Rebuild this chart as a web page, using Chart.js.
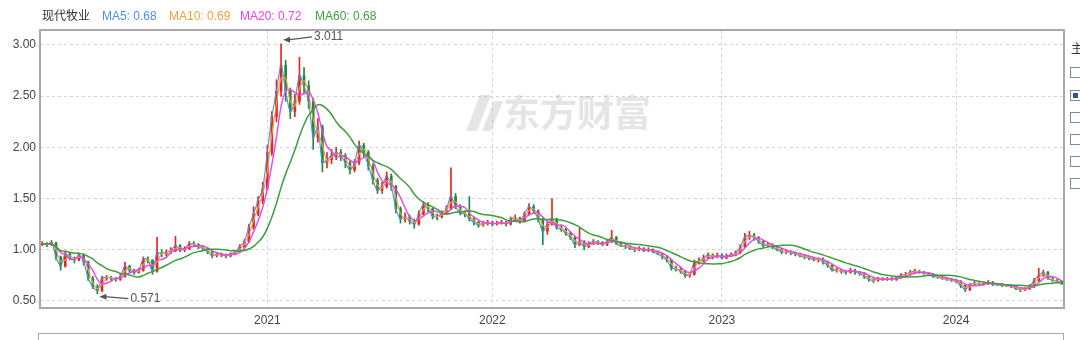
<!DOCTYPE html>
<html>
<head>
<meta charset="utf-8">
<script src="https://cdn.jsdelivr.net/npm/chart.js@4.4.1/dist/chart.umd.min.js"></script>
<style>
  body { margin: 0; background: #fff; font-family: "Liberation Sans", Arial, "Noto Sans CJK SC", sans-serif; }
  #wrap { position: relative; width: 1080px; height: 340px; overflow: hidden; }
  #myChart { position: absolute; left: 0; top: 0; }
  .hd { position: absolute; top: 8px; font-size: 12px; line-height: 16px; white-space: nowrap; }
  .side { position: absolute; left: 1071px; top: 39px; font-size: 12px; color: #333; font-family: "Noto Sans CJK SC", sans-serif; }
  .box { position: absolute; left: 1070px; width: 9px; height: 9px; border: 1px solid #7d8ba0; background: #fff; }
  .box.on::after { content: ""; position: absolute; left: 2px; top: 2px; width: 5px; height: 5px; background: #2f5597; }
  #lower { position: absolute; left: 38px; top: 333px; width: 1024px; height: 30px; border: 1px solid #aaa; }
</style>
</head>
<body>
<div id="wrap">
  <canvas id="myChart" width="1080" height="340"></canvas>
  <div id="head"></div>
  <div class="side">主</div>
  <div class="box" style="top:67px"></div>
  <div class="box on" style="top:90px"></div>
  <div class="box" style="top:112px"></div>
  <div class="box" style="top:134px"></div>
  <div class="box" style="top:156px"></div>
  <div class="box" style="top:178px"></div>
  <div id="lower"></div>
</div>
<script>
// weekly candles, Jan 2020 .. Jun 2024
const opens = [
  1.05,1.06,1.05,1.07,0.93,0.84,0.96,0.92,0.90,0.95,
  0.88,0.72,0.64,0.60,0.72,0.73,0.72,0.71,0.74,0.84,
  0.80,0.78,0.80,0.91,0.90,0.79,0.97,0.96,0.98,0.99,
  1.04,1.00,1.01,1.06,1.05,1.03,1.01,0.98,0.94,0.96,
  0.95,0.94,0.96,0.98,1.03,1.08,1.22,1.35,1.48,1.60,
  1.95,2.30,2.55,2.80,2.55,2.35,2.45,2.70,2.60,2.45,
  2.10,2.20,1.85,1.88,1.92,1.95,1.92,1.85,1.78,1.85,
  2.02,1.95,1.82,1.68,1.58,1.62,1.72,1.62,1.40,1.30,
  1.32,1.28,1.25,1.35,1.44,1.40,1.33,1.32,1.36,1.40,
  1.52,1.42,1.36,1.35,1.30,1.27,1.24,1.26,1.27,1.25,
  1.26,1.27,1.25,1.30,1.31,1.28,1.35,1.42,1.38,1.30,
  1.18,1.25,1.30,1.22,1.20,1.16,1.12,1.05,1.08,1.03,
  1.06,1.08,1.07,1.05,1.08,1.12,1.06,1.04,1.03,1.01,
  1.00,1.01,0.99,1.00,0.98,0.96,0.93,0.90,0.82,0.81,
  0.79,0.75,0.76,0.88,0.89,0.92,0.95,0.93,0.95,0.92,
  0.94,0.95,0.97,1.03,1.12,1.14,1.12,1.08,1.04,1.05,
  1.03,1.00,0.98,0.98,0.97,0.96,0.94,0.93,0.92,0.90,
  0.91,0.88,0.85,0.80,0.80,0.79,0.78,0.80,0.78,0.77,
  0.74,0.71,0.70,0.72,0.71,0.72,0.71,0.73,0.75,0.76,
  0.78,0.79,0.78,0.77,0.76,0.74,0.73,0.72,0.71,0.70,
  0.69,0.65,0.61,0.66,0.67,0.66,0.67,0.68,0.66,0.66,
  0.65,0.65,0.64,0.62,0.61,0.62,0.64,0.70,0.75,0.78,
  0.72,0.70,0.69
];
const highs = [
  1.08,1.07,1.09,1.07,0.94,0.98,0.97,0.93,0.97,0.96,
  0.89,0.74,0.66,0.74,0.75,0.74,0.73,0.76,0.88,0.85,
  0.81,0.82,0.93,0.93,0.90,1.12,1.00,1.00,1.02,1.13,
  1.05,1.03,1.08,1.08,1.06,1.04,1.02,0.99,0.97,0.97,
  0.96,0.97,0.99,1.05,1.10,1.25,1.42,1.52,1.66,2.02,
  2.35,2.66,3.011,2.85,2.58,2.52,2.88,2.78,2.65,2.48,
  2.28,2.22,1.95,1.98,2.00,1.98,1.94,1.87,1.88,2.06,
  2.04,1.97,1.84,1.70,1.66,1.76,1.74,1.63,1.42,1.36,
  1.34,1.30,1.38,1.47,1.46,1.41,1.35,1.38,1.43,1.80,
  1.55,1.44,1.38,1.52,1.32,1.28,1.28,1.29,1.28,1.28,
  1.29,1.28,1.32,1.34,1.32,1.37,1.45,1.44,1.39,1.31,
  1.28,1.50,1.31,1.24,1.21,1.17,1.13,1.21,1.09,1.08,
  1.10,1.09,1.08,1.10,1.19,1.13,1.07,1.05,1.04,1.02,
  1.03,1.02,1.02,1.01,0.99,0.97,0.94,0.91,0.84,0.83,
  0.80,0.78,0.90,0.92,0.95,0.97,0.96,0.97,0.96,0.96,
  0.97,0.99,1.05,1.16,1.18,1.16,1.13,1.09,1.07,1.06,
  1.04,1.01,1.00,0.99,0.98,0.97,0.95,0.94,0.93,0.92,
  0.92,0.89,0.86,0.82,0.81,0.80,0.82,0.81,0.79,0.78,
  0.75,0.72,0.73,0.73,0.73,0.73,0.74,0.77,0.78,0.80,
  0.81,0.80,0.79,0.78,0.77,0.75,0.74,0.73,0.72,0.71,
  0.70,0.66,0.67,0.69,0.68,0.68,0.70,0.69,0.67,0.67,
  0.66,0.66,0.65,0.63,0.63,0.66,0.72,0.82,0.80,0.79,
  0.73,0.71,0.70
];
const lows = [
  1.04,1.03,1.04,0.90,0.80,0.83,0.90,0.87,0.89,0.85,
  0.70,0.62,0.571,0.59,0.70,0.70,0.69,0.70,0.73,0.78,
  0.76,0.77,0.79,0.87,0.76,0.78,0.93,0.94,0.96,0.98,
  0.98,0.98,1.00,1.03,1.01,0.99,0.96,0.92,0.93,0.93,
  0.92,0.93,0.95,0.97,1.02,1.07,1.20,1.33,1.45,1.58,
  1.92,2.25,2.50,2.45,2.28,2.30,2.42,2.52,2.38,1.98,
  2.05,1.76,1.80,1.84,1.88,1.87,1.80,1.74,1.76,1.83,
  1.90,1.78,1.64,1.55,1.55,1.60,1.58,1.36,1.26,1.27,
  1.25,1.21,1.24,1.34,1.37,1.30,1.29,1.31,1.35,1.39,
  1.40,1.34,1.32,1.28,1.24,1.22,1.23,1.24,1.23,1.24,
  1.25,1.23,1.24,1.28,1.26,1.27,1.34,1.36,1.27,1.05,
  1.15,1.24,1.20,1.18,1.14,1.10,1.02,1.04,1.00,1.02,
  1.05,1.05,1.04,1.04,1.07,1.05,1.03,1.01,1.00,0.98,
  0.99,0.98,0.98,0.97,0.95,0.91,0.88,0.80,0.79,0.77,
  0.73,0.73,0.75,0.86,0.88,0.91,0.91,0.92,0.91,0.91,
  0.93,0.94,0.96,1.02,1.10,1.09,1.06,1.02,1.03,1.01,
  0.99,0.96,0.96,0.95,0.94,0.93,0.91,0.90,0.89,0.88,
  0.86,0.83,0.79,0.78,0.77,0.76,0.77,0.76,0.75,0.72,
  0.69,0.68,0.69,0.70,0.70,0.70,0.70,0.72,0.74,0.75,
  0.77,0.77,0.76,0.75,0.73,0.72,0.71,0.70,0.69,0.68,
  0.63,0.59,0.60,0.65,0.65,0.65,0.66,0.65,0.65,0.64,
  0.64,0.63,0.61,0.59,0.60,0.61,0.63,0.69,0.74,0.71,
  0.69,0.68,0.66
];
const closes = [
  1.06,1.05,1.07,0.93,0.84,0.96,0.92,0.90,0.95,0.88,
  0.72,0.64,0.60,0.72,0.73,0.72,0.71,0.74,0.84,0.80,
  0.78,0.80,0.91,0.90,0.79,0.97,0.96,0.98,0.99,1.04,
  1.00,1.01,1.06,1.05,1.03,1.01,0.98,0.94,0.96,0.95,
  0.94,0.96,0.98,1.03,1.08,1.22,1.35,1.48,1.60,1.95,
  2.30,2.55,2.80,2.55,2.35,2.45,2.70,2.60,2.45,2.10,
  2.20,1.85,1.88,1.92,1.95,1.92,1.85,1.78,1.85,2.02,
  1.95,1.82,1.68,1.58,1.62,1.72,1.62,1.40,1.30,1.32,
  1.28,1.25,1.35,1.44,1.40,1.33,1.32,1.36,1.40,1.52,
  1.42,1.36,1.35,1.30,1.27,1.24,1.26,1.27,1.25,1.26,
  1.27,1.25,1.30,1.31,1.28,1.35,1.42,1.38,1.30,1.18,
  1.25,1.30,1.22,1.20,1.16,1.12,1.05,1.08,1.03,1.06,
  1.08,1.07,1.05,1.08,1.12,1.06,1.04,1.03,1.01,1.00,
  1.01,0.99,1.00,0.98,0.96,0.93,0.90,0.82,0.81,0.79,
  0.75,0.76,0.88,0.89,0.92,0.95,0.93,0.95,0.92,0.94,
  0.95,0.97,1.03,1.12,1.14,1.12,1.08,1.04,1.05,1.03,
  1.00,0.98,0.98,0.97,0.96,0.94,0.93,0.92,0.90,0.91,
  0.88,0.85,0.80,0.80,0.79,0.78,0.80,0.78,0.77,0.74,
  0.71,0.70,0.72,0.71,0.72,0.71,0.73,0.75,0.76,0.78,
  0.79,0.78,0.77,0.76,0.74,0.73,0.72,0.71,0.70,0.69,
  0.65,0.61,0.66,0.67,0.66,0.67,0.68,0.66,0.66,0.65,
  0.65,0.64,0.62,0.61,0.62,0.64,0.70,0.75,0.78,0.72,
  0.70,0.69,0.67
];

const yearTicks = [49, 98, 148, 199];          // first week of each year
const yearLabels = ["2021", "2022", "2023", "2024"];
const priceTicks = [0.5, 1.0, 1.5, 2.0, 2.5, 3.0];

const stockName = "现代牧业";
const maNames = ["MA5", "MA10", "MA20", "MA60"];
const maLast = [0.68, 0.69, 0.72, 0.68];
const maWeeks = [1, 2, 4, 12];                 // day periods expressed in weekly candles
const maColors = ["#4f8ee6", "#eda33a", "#f23ff0", "#3d9e3d"];
const maWidths = [1.1, 1.1, 1.4, 1.5];

const markIndex = [52, 12];                    // highest high, lowest low
const markValue = [3.011, 0.571];

const upColor = "#e0291c";
const downColor = "#23883a";

// header
const head = document.getElementById("head");
const headLeft = [42, 102, 169, 240, 315];
[stockName].concat(maNames.map((n, i) => n + ": " + maLast[i].toFixed(2))).forEach((t, i) => {
  const s = document.createElement("span");
  s.className = "hd";
  s.style.left = headLeft[i] + "px";
  s.style.color = i === 0 ? "#333" : maColors[i - 1];
  s.textContent = t;
  head.appendChild(s);
});

function movingAvg(n) {
  return closes.map((c, i) => {
    const part = closes.slice(Math.max(0, i - n + 1), i + 1);
    return part.reduce((a, b) => a + b, 0) / part.length;
  });
}

const candleColors = closes.map((c, i) => (c >= opens[i] ? upColor : downColor));
const wicks = closes.map((c, i) => ({ x: i, y: [lows[i], highs[i]] }));
const bodies = closes.map((c, i) => ({ x: i, y: [opens[i], c] }));

const maSets = maNames.map((name, k) => ({
  type: "line",
  label: name,
  data: movingAvg(maWeeks[k]).map((v, i) => ({ x: i, y: v })),
  borderColor: maColors[k],
  borderWidth: maWidths[k],
  pointRadius: 0,
  tension: 0.3,
  order: 4 - k
}));

const frame = {
  id: "frame",
  beforeDatasetsDraw(chart) {
    const { ctx } = chart;
    ctx.save();
    // watermark
    ctx.fillStyle = "rgba(150,150,150,0.25)";
    ctx.font = "bold 37px 'Noto Sans CJK SC'";
    ctx.textBaseline = "middle";
    ctx.fillText("东方财富", 503, 113);
    ctx.beginPath();
    ctx.moveTo(480, 95); ctx.lineTo(491, 95); ctx.lineTo(477, 131); ctx.lineTo(466, 131); ctx.closePath();
    ctx.moveTo(494, 101); ctx.lineTo(503, 101); ctx.lineTo(491, 131); ctx.lineTo(482, 131); ctx.closePath();
    ctx.fill();
    ctx.restore();
  },
  afterDatasetsDraw(chart) {
    const { ctx, chartArea: a, scales } = chart;
    ctx.save();
    ctx.strokeStyle = "#a8a8a8";
    ctx.lineWidth = 2;
    ctx.strokeRect(a.left, a.top, a.right - a.left, a.bottom - a.top);
    // high / low marks
    ctx.strokeStyle = "#555";
    ctx.fillStyle = "#555";
    ctx.lineWidth = 1.2;
    ctx.font = "12px 'Liberation Sans', Arial";
    ctx.textBaseline = "middle";
    markIndex.forEach((idx, k) => {
      const px = scales.x.getPixelForValue(idx) + 2;
      const py = scales.y.getPixelForValue(markValue[k]) + (k === 0 ? -4 : 3);
      const tx = px + 29, ty = py + (k === 0 ? -3 : 2);
      ctx.beginPath();
      ctx.moveTo(tx, ty);
      ctx.lineTo(px + 5, py);
      ctx.stroke();
      ctx.beginPath();
      ctx.moveTo(px, py);
      ctx.lineTo(px + 7, py - 3);
      ctx.lineTo(px + 7, py + 3);
      ctx.closePath();
      ctx.fill();
      ctx.fillText(markValue[k].toFixed(3), tx + 2, ty);
    });
    ctx.restore();
  }
};

new Chart(document.getElementById("myChart"), {
  type: "bar",
  data: {
    datasets: [
      ...maSets,
      { label: "body", data: bodies, backgroundColor: candleColors, barThickness: 2, grouped: false, minBarLength: 1, order: 10 },
      { label: "wick", data: wicks, backgroundColor: candleColors, barThickness: 1, grouped: false, order: 11 }
    ]
  },
  options: {
    responsive: false,
    animation: false,
    layout: { padding: { top: 30, right: 16, left: 0, bottom: 0 } },
    plugins: { legend: { display: false }, tooltip: { enabled: false } },
    scales: {
      x: {
        type: "linear",
        min: -0.5,
        max: closes.length - 0.5,
        offset: false,
        afterBuildTicks: s => { s.ticks = yearTicks.map(v => ({ value: v })); },
        afterFit: s => { s.height = 32; },
        grid: { color: "#d4d4d4", drawTicks: false, offset: false },
        border: { display: false, dash: [3, 3] },
        ticks: {
          padding: 5, color: "#444", autoSkip: false, maxRotation: 0,
          font: { size: 12, family: "'Liberation Sans', Arial" },
          callback: v => yearLabels[yearTicks.indexOf(v)] || ""
        }
      },
      y: {
        min: 0.431,
        max: 3.146,
        afterBuildTicks: s => { s.ticks = priceTicks.map(v => ({ value: v })); },
        afterFit: s => { s.width = 40; },
        grid: { color: "#d4d4d4", drawTicks: false },
        border: { display: false, dash: [3, 3] },
        ticks: {
          padding: 4, color: "#444",
          font: { size: 12, family: "'Liberation Sans', Arial" },
          callback: v => Number(v).toFixed(2)
        }
      }
    }
  },
  plugins: [frame]
});
</script>
</body>
</html>
